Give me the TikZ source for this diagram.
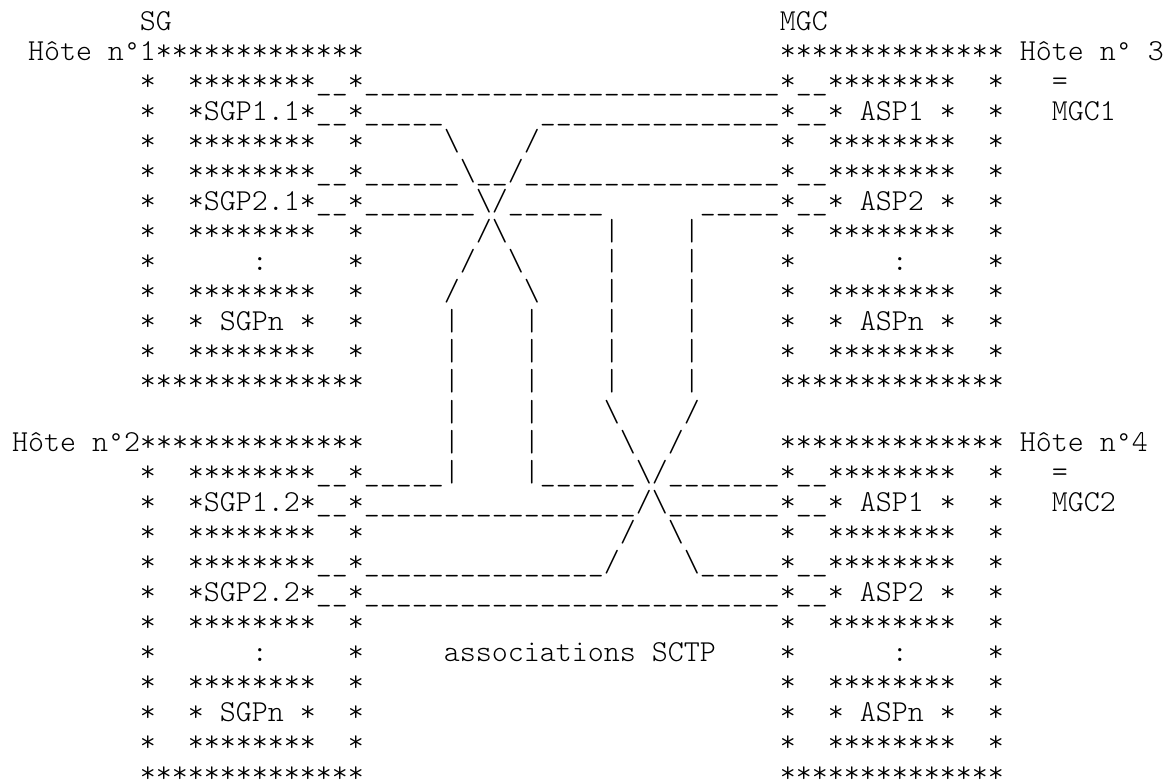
\documentclass[tikz,border=0pt]{standalone}
\usepackage{fontspec}
\usepackage{tikz}
\newfontfamily\asciifont{lmmonolt10-regular.otf}
\newfontfamily\degfont{Liberation Mono}
\newlength{\cw}
\newcount\repcount
\newcommand{\spc}[1]{\hspace*{#1\cw}}
\newcommand{\rep}[2]{\repcount=#1\relax
  \loop\ifnum\repcount>0 #2\advance\repcount by -1\relax\repeat}
\newcommand{\bsl}{\textbackslash}
\newcommand{\degr}{\makebox[\cw][c]{\degfont\fontsize{13.33pt}{15pt}\selectfont °}}

\begin{document}
\begin{tikzpicture}[
  ascii/.style={anchor=base west, inner sep=0pt, outer sep=0pt,
                font={\asciifont\fontsize{15.2381pt}{15.04pt}\selectfont\settowidth{\cw}{*}}}
]
  \fill[white] (0pt,0pt) rectangle (582pt,-391pt);
  \useasboundingbox (0pt,0pt) rectangle (582pt,-391pt);
  \begin{scope}[shift={(6pt,-15pt)}, x={(1pt,0pt)}, y={(0pt,-15.04pt)}]
  \node[ascii] (row0)  at (0,0)  {\spc{8}SG\spc{38}MGC};
  \node[ascii] (row1)  at (0,1)  {\spc{1}Hôte\spc{1}n\degr1\rep{13}{*}\spc{26}\rep{14}{*}\spc{1}Hôte\spc{1}n\degr\spc{1}3};
  \node[ascii] (row2)  at (0,2)  {\spc{8}*\spc{2}\rep{8}{*}\rep{2}{\_}*\rep{26}{\_}*\rep{2}{\_}\rep{8}{*}\spc{2}*\spc{3}=};
  \node[ascii] (row3)  at (0,3)  {\spc{8}*\spc{2}*SGP1.1*\rep{2}{\_}*\rep{5}{\_}\spc{6}\rep{15}{\_}*\rep{2}{\_}*\spc{1}ASP1\spc{1}*\spc{2}*\spc{3}MGC1};
  \node[ascii] (row4)  at (0,4)  {\spc{8}*\spc{2}\rep{8}{*}\spc{2}*\spc{5}\bsl\spc{4}/\spc{15}*\spc{2}\rep{8}{*}\spc{2}*};
  \node[ascii] (row5)  at (0,5)  {\spc{8}*\spc{2}\rep{8}{*}\rep{2}{\_}*\rep{6}{\_}\bsl\rep{2}{\_}/\rep{16}{\_}*\rep{2}{\_}\rep{8}{*}\spc{2}*};
  \node[ascii] (row6)  at (0,6)  {\spc{8}*\spc{2}*SGP2.1*\rep{2}{\_}*\rep{7}{\_}\bsl/\rep{6}{\_}\spc{6}\rep{5}{\_}*\rep{2}{\_}*\spc{1}ASP2\spc{1}*\spc{2}*};
  \node[ascii] (row7)  at (0,7)  {\spc{8}*\spc{2}\rep{8}{*}\spc{2}*\spc{7}/\bsl\spc{6}|\spc{4}|\spc{5}*\spc{2}\rep{8}{*}\spc{2}*};
  \node[ascii] (row8)  at (0,8)  {\spc{8}*\spc{6}:\spc{5}*\spc{6}/\spc{2}\bsl\spc{5}|\spc{4}|\spc{5}*\spc{6}:\spc{5}*};
  \node[ascii] (row9)  at (0,9)  {\spc{8}*\spc{2}\rep{8}{*}\spc{2}*\spc{5}/\spc{4}\bsl\spc{4}|\spc{4}|\spc{5}*\spc{2}\rep{8}{*}\spc{2}*};
  \node[ascii] (row10) at (0,10) {\spc{8}*\spc{2}*\spc{1}SGPn\spc{1}*\spc{2}*\spc{5}|\spc{4}|\spc{4}|\spc{4}|\spc{5}*\spc{2}*\spc{1}ASPn\spc{1}*\spc{2}*};
  \node[ascii] (row11) at (0,11) {\spc{8}*\spc{2}\rep{8}{*}\spc{2}*\spc{5}|\spc{4}|\spc{4}|\spc{4}|\spc{5}*\spc{2}\rep{8}{*}\spc{2}*};
  \node[ascii] (row12) at (0,12) {\spc{8}\rep{14}{*}\spc{5}|\spc{4}|\spc{4}|\spc{4}|\spc{5}\rep{14}{*}};
  \node[ascii] (row13) at (0,13) {\spc{27}|\spc{4}|\spc{4}\bsl\spc{4}/};
  \node[ascii] (row14) at (0,14) {Hôte\spc{1}n\degr2\rep{14}{*}\spc{5}|\spc{4}|\spc{5}\bsl\spc{2}/\spc{6}\rep{14}{*}\spc{1}Hôte\spc{1}n\degr4};
  \node[ascii] (row15) at (0,15) {\spc{8}*\spc{2}\rep{8}{*}\rep{2}{\_}*\rep{5}{\_}|\spc{4}|\rep{6}{\_}\bsl/\rep{7}{\_}*\rep{2}{\_}\rep{8}{*}\spc{2}*\spc{3}=};
  \node[ascii] (row16) at (0,16) {\spc{8}*\spc{2}*SGP1.2*\rep{2}{\_}*\rep{17}{\_}/\bsl\rep{7}{\_}*\rep{2}{\_}*\spc{1}ASP1\spc{1}*\spc{2}*\spc{3}MGC2};
  \node[ascii] (row17) at (0,17) {\spc{8}*\spc{2}\rep{8}{*}\spc{2}*\spc{16}/\spc{2}\bsl\spc{6}*\spc{2}\rep{8}{*}\spc{2}*};
  \node[ascii] (row18) at (0,18) {\spc{8}*\spc{2}\rep{8}{*}\rep{2}{\_}*\rep{15}{\_}/\spc{4}\bsl\rep{5}{\_}*\rep{2}{\_}\rep{8}{*}\spc{2}*};
  \node[ascii] (row19) at (0,19) {\spc{8}*\spc{2}*SGP2.2*\rep{2}{\_}*\rep{26}{\_}*\rep{2}{\_}*\spc{1}ASP2\spc{1}*\spc{2}*};
  \node[ascii] (row20) at (0,20) {\spc{8}*\spc{2}\rep{8}{*}\spc{2}*\spc{26}*\spc{2}\rep{8}{*}\spc{2}*};
  \node[ascii] (row21) at (0,21) {\spc{8}*\spc{6}:\spc{5}*\spc{5}associations\spc{1}SCTP\spc{4}*\spc{6}:\spc{5}*};
  \node[ascii] (row22) at (0,22) {\spc{8}*\spc{2}\rep{8}{*}\spc{2}*\spc{26}*\spc{2}\rep{8}{*}\spc{2}*};
  \node[ascii] (row23) at (0,23) {\spc{8}*\spc{2}*\spc{1}SGPn\spc{1}*\spc{2}*\spc{26}*\spc{2}*\spc{1}ASPn\spc{1}*\spc{2}*};
  \node[ascii] (row24) at (0,24) {\spc{8}*\spc{2}\rep{8}{*}\spc{2}*\spc{26}*\spc{2}\rep{8}{*}\spc{2}*};
  \node[ascii] (row25) at (0,25) {\spc{8}\rep{14}{*}\spc{26}\rep{14}{*}};
  \end{scope}
\end{tikzpicture}
\end{document}
